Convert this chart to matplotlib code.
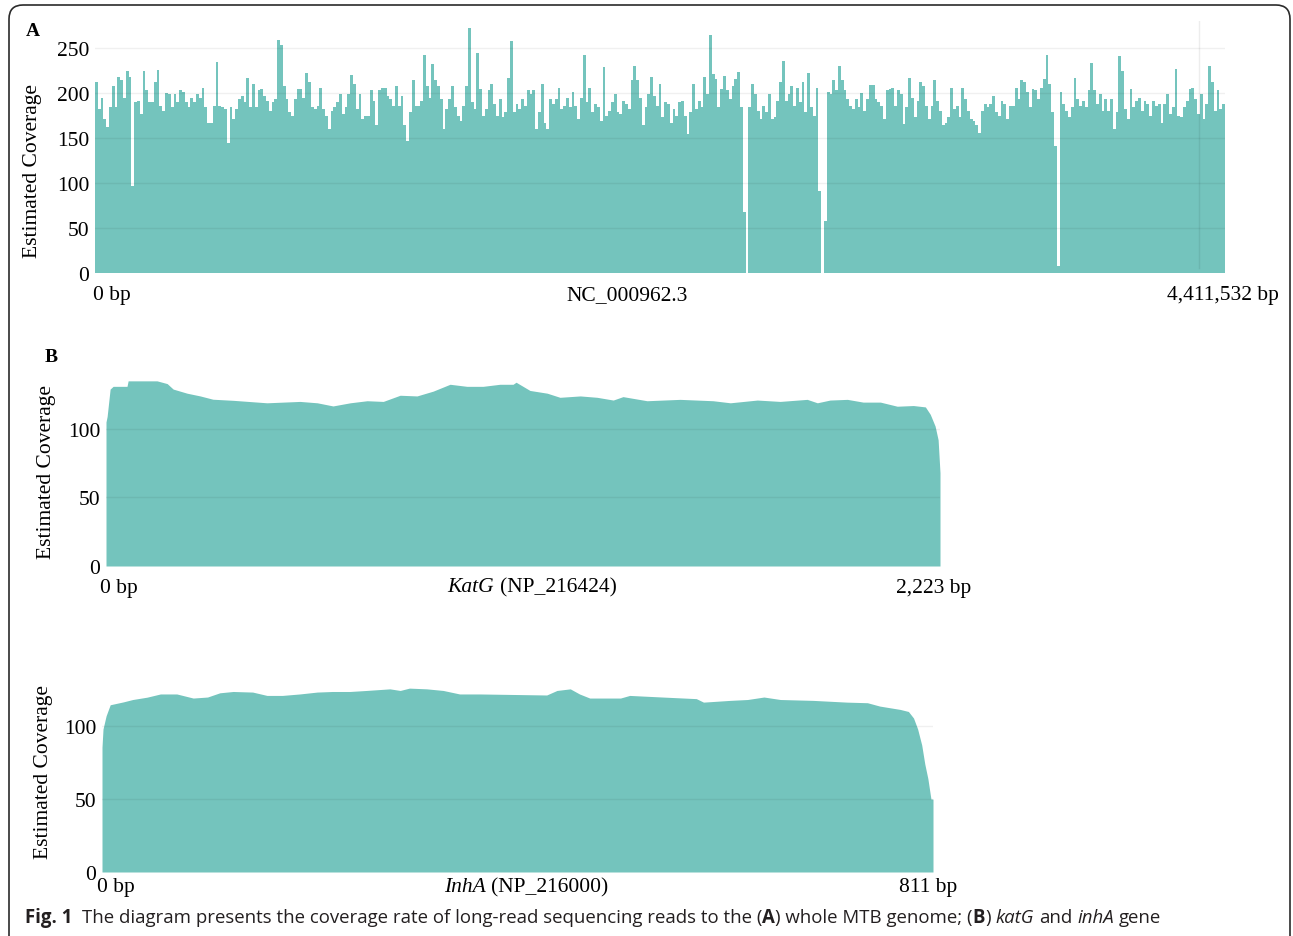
import numpy as np
import matplotlib
matplotlib.use("Agg")
import matplotlib.pyplot as plt
from matplotlib.patches import FancyBboxPatch
from matplotlib.transforms import IdentityTransform

plt.rcParams['font.family'] = ['Liberation Serif', 'DejaVu Serif']

# ---- data -------------------------------------------------------------
genome_len = 4411532
genome_name = "NC_000962.3"
# binned coverage along the whole genome (left to right)
cov_genome = [
    212, 182, 195, 171, 162, 184, 208, 184, 218, 214, 194, 224, 218, 97, 190, 191,
    177, 224, 203, 190, 190, 212, 226, 186, 180, 200, 199, 184, 199, 190, 203, 201,
    190, 184, 195, 190, 199, 195, 206, 184, 167, 167, 186, 235, 186, 184, 182, 145,
    184, 171, 182, 193, 197, 190, 217, 184, 210, 184, 203, 204, 197, 191, 180, 190,
    193, 259, 253, 208, 193, 179, 175, 193, 204, 204, 195, 222, 212, 184, 182, 186,
    206, 182, 175, 160, 180, 184, 190, 199, 177, 184, 199, 220, 210, 182, 199, 171,
    175, 175, 203, 191, 164, 203, 206, 206, 197,
    193, 186, 208, 186, 197, 164, 147, 179, 214, 186, 186, 191, 242, 208, 195, 232,
    214, 208, 193, 160, 182, 193, 208, 184, 175, 169, 186, 208, 272, 190, 182, 245,
    204, 175, 182, 203, 210, 188, 175, 193, 173, 179, 217, 258, 179, 188, 182, 193,
    186, 203, 199, 203, 160, 179, 210, 167, 160, 193, 188, 193, 206, 182, 186, 195,
    184, 201, 186, 171, 195, 242, 190, 206, 179, 188, 184, 169, 229, 175, 180, 190,
    199, 179, 177, 191, 188, 182, 214, 230, 214, 195, 164, 184, 199, 218, 197, 186,
    210, 173, 190,
    188, 167, 182, 175, 190, 191, 175, 154, 179, 210, 182, 191, 184, 218, 199, 264,
    221, 216, 184, 204, 219, 203, 193, 208, 216, 223, 185, 68, 0, 184, 210, 199,
    180, 171, 186, 179, 199, 171, 173, 191, 212, 236, 191, 199, 208, 186, 206, 190,
    212, 179, 222, 184, 175, 206, 91, 0, 58, 201, 199, 214, 203, 230, 214, 203,
    193, 186, 182, 193, 184, 200, 180, 193, 209, 209, 193, 190, 186, 171, 203, 204,
    206, 186, 203, 199, 166, 184, 217, 195, 173, 191, 212, 208, 186, 171, 186, 214,
    191, 180, 164, 167, 173, 206, 182,
    186, 173, 206, 193, 180, 171, 169, 164, 156, 180, 188, 184, 188, 197, 179, 175,
    191, 188, 171, 186, 186, 206, 193, 214, 212, 201, 184, 204, 203, 193, 206, 216,
    242, 210, 179, 141, 8, 201, 188, 180, 173, 184, 217, 193, 186, 191, 184, 203,
    233, 203, 188, 199, 180, 193, 180, 193, 160, 179, 241, 225, 182, 171, 204, 184,
    191, 195, 180, 191, 188, 175, 191, 186, 188, 167, 188, 199, 177, 184, 227, 175,
    173, 184, 191, 204, 206, 193, 177, 199, 171, 188, 230, 212, 180, 203, 182, 188,
]
genome_yticks = [0, 50, 100, 150, 200, 250]
cursor_bp = 4310000

katg_len = 2223
katg_pos = [0, 3, 11, 19, 56, 59, 136, 163, 179, 216, 251, 285, 339, 429, 517, 563,
            605, 651, 696, 739, 784, 829, 872, 917, 962, 1005, 1050, 1085, 1093, 1130,
            1176, 1210, 1264, 1309, 1352, 1378, 1442, 1530, 1618, 1664, 1736, 1797,
            1869, 1896, 1930, 1976, 2018, 2064, 2109, 2152, 2184, 2197, 2210, 2218, 2223]
katg_cov = [105, 109, 129, 131, 131, 135, 135, 133, 129, 126, 124, 121.6, 120.8, 119,
            120, 119, 116.7, 119, 120.5, 120, 124.5, 124, 127.5, 132.5, 131, 131, 132.5,
            132.5, 134, 128, 126, 123, 124, 123, 121, 123.5, 120.5, 121.5, 120.5, 119,
            121, 120, 121.5, 119, 121, 121.5, 119.5, 119.5, 116.5, 117, 116, 110.6, 102,
            92, 68]

inha_len = 811
inha_pos = [0, 1, 4, 8, 21, 30, 44, 57, 73, 89, 103, 115, 128, 147, 161, 176, 193, 210,
            225, 242, 258, 281, 291, 300, 317, 333, 349, 369, 434, 444, 457, 466, 476,
            506, 515, 547, 580, 587, 613, 630, 646, 662, 694, 727, 747, 759, 779, 787,
            792, 796, 800, 803, 806, 809, 811]
inha_cov = [85.5, 98, 107, 114.6, 116.6, 118.2, 119.8, 122, 122, 119.2, 119.9, 122.8,
            123.7, 123.3, 121, 121, 122, 123.3, 123.7, 123.7, 124.4, 125.5, 124.4, 126,
            125.5, 124.4, 122, 122, 121.3, 124.4, 125.5, 122, 119.2, 119.2, 121, 119.9,
            118.8, 116.4, 117.6, 118.2, 119.9, 118.2, 117.6, 116.4, 116, 113.7, 111.4,
            110, 105.5, 98, 87, 74, 64, 50, 50]
gene_yticks = [0, 50, 100]

teal = '#74c4bd'
FS = 15.5
W, H = 1293, 937

fig = plt.figure(figsize=(W / 100, H / 100), dpi=100)


def px_axes(left, top, width, height):
    return fig.add_axes([left / W, (H - top - height) / H, width / W, height / H])


def style_axes(ax, grid_vals):
    for s in ax.spines.values():
        s.set_visible(False)
    ax.set_xticks([])
    ax.tick_params(axis='y', length=0, pad=4, labelsize=FS)
    for v in grid_vals:
        ax.axhline(v, color='k', alpha=0.06, lw=1, zorder=3)


# ---- A: whole genome ---------------------------------------------------
ax_a = px_axes(95, 22, 1130, 252)
edges = np.linspace(0, genome_len, len(cov_genome) + 1)
ax_a.stairs(cov_genome, edges, fill=True, color=teal, lw=0)
ax_a.set_xlim(0, genome_len)
ax_a.set_ylim(0, 280)
ax_a.set_yticks(genome_yticks)
style_axes(ax_a, genome_yticks[1:])
ax_a.axvline(cursor_bp, ymin=0.02, ymax=1.0, color='k', alpha=0.07, lw=1)
ax_a.text(-0.002, -0.087, "0 bp", transform=ax_a.transAxes, ha='left', va='center', fontsize=FS)
ax_a.text(0.471, -0.087, genome_name, transform=ax_a.transAxes, ha='center', va='center', fontsize=FS)
ax_a.text(0.998, -0.087, f"{genome_len:,} bp", transform=ax_a.transAxes, ha='center', va='center', fontsize=FS)

# ---- B: katG -----------------------------------------------------------
ax_k = px_axes(106, 375, 834, 192)
ax_k.fill_between(katg_pos, katg_cov, 0, color=teal, lw=0)
ax_k.set_xlim(0, katg_len)
ax_k.set_ylim(0, 140)
ax_k.set_yticks(gene_yticks)
style_axes(ax_k, gene_yticks[1:])
ax_k.text(-0.007, -0.11, "0 bp", transform=ax_k.transAxes, ha='left', va='center', fontsize=FS)
ax_k.text(0.992, -0.11, f"{katg_len:,} bp", transform=ax_k.transAxes, ha='center', va='center', fontsize=FS)

# ---- B: inhA -----------------------------------------------------------
ax_i = px_axes(102, 676, 831, 197)
ax_i.fill_between(inha_pos, inha_cov, 0, color=teal, lw=0)
ax_i.set_xlim(0, inha_len)
ax_i.set_ylim(0, 135)
ax_i.set_yticks(gene_yticks)
style_axes(ax_i, gene_yticks[1:])
ax_i.text(-0.006, -0.075, "0 bp", transform=ax_i.transAxes, ha='left', va='center', fontsize=FS)
ax_i.text(0.994, -0.075, f"{inha_len:,} bp", transform=ax_i.transAxes, ha='center', va='center', fontsize=FS)

renderer = fig.canvas.get_renderer()


def runs_text(x, y, runs, size, family, ha='left', color='black'):
    """Lay out (text, weight, style) runs side by side, x/y in pixels from top-left."""
    def width(s, weight, style):
        t = fig.text(0, 0, s, fontsize=size, family=family, weight=weight, style=style)
        w = t.get_window_extent(renderer).width
        t.remove()
        return w
    space = width("a a", 'normal', 'normal') - width("aa", 'normal', 'normal')
    pieces = []
    total = 0
    for s, weight, style in runs:
        core = s.strip(' ')
        lead = len(s) - len(s.lstrip(' '))
        trail = len(s) - len(s.rstrip(' '))
        w = width(core, weight, style)
        pieces.append((total + lead * space, core, weight, style))
        total += lead * space + w + trail * space
    x0 = x - total / 2 if ha == 'center' else x
    for off, core, weight, style in pieces:
        fig.text(x0 + off, H - y, core, fontsize=size, family=family, weight=weight,
                 style=style, va='center', ha='left', color=color,
                 transform=IdentityTransform())


runs_text(532, 588, [("KatG", 'normal', 'italic'), (" (NP_216424)", 'normal', 'normal')],
          FS, 'Liberation Serif', ha='center')
runs_text(526, 888, [("InhA", 'normal', 'italic'), (" (NP_216000)", 'normal', 'normal')],
          FS, 'Liberation Serif', ha='center')

# ---- labels ------------------------------------------------------------
for x, y in [(33, 171), (47, 472), (44, 772)]:
    fig.text(x / W, 1 - y / H, "Estimated Coverage", rotation=90, ha='center', va='center', fontsize=FS)
fig.text(33 / W, 1 - 31 / H, "A", ha='center', va='center', fontsize=14, weight='bold')
fig.text(51 / W, 1 - 358 / H, "B", ha='center', va='center', fontsize=14, weight='bold')

caption = [
    ("Fig. 1", 'bold', 'normal'),
    ("  The diagram presents the coverage rate of long-read sequencing reads to the (", 'normal', 'normal'),
    ("A", 'bold', 'normal'),
    (") whole MTB genome; (", 'normal', 'normal'),
    ("B", 'bold', 'normal'),
    (") ", 'normal', 'normal'),
    ("katG", 'normal', 'italic'),
    (" and ", 'normal', 'normal'),
    ("inhA", 'normal', 'italic'),
    (" gene", 'normal', 'normal'),
]
runs_text(25, 918, caption, 13.4, 'Open Sans', color='#231f20')

# rounded frame around the figure
frame = FancyBboxPatch((9, -20), W - 12, H - 6 + 20, boxstyle='round,pad=0,rounding_size=14',
                       transform=IdentityTransform(), fill=False, ec='#2b2b2b', lw=1.2)
fig.patches.append(frame)

fig.savefig("out.png", dpi=100)
